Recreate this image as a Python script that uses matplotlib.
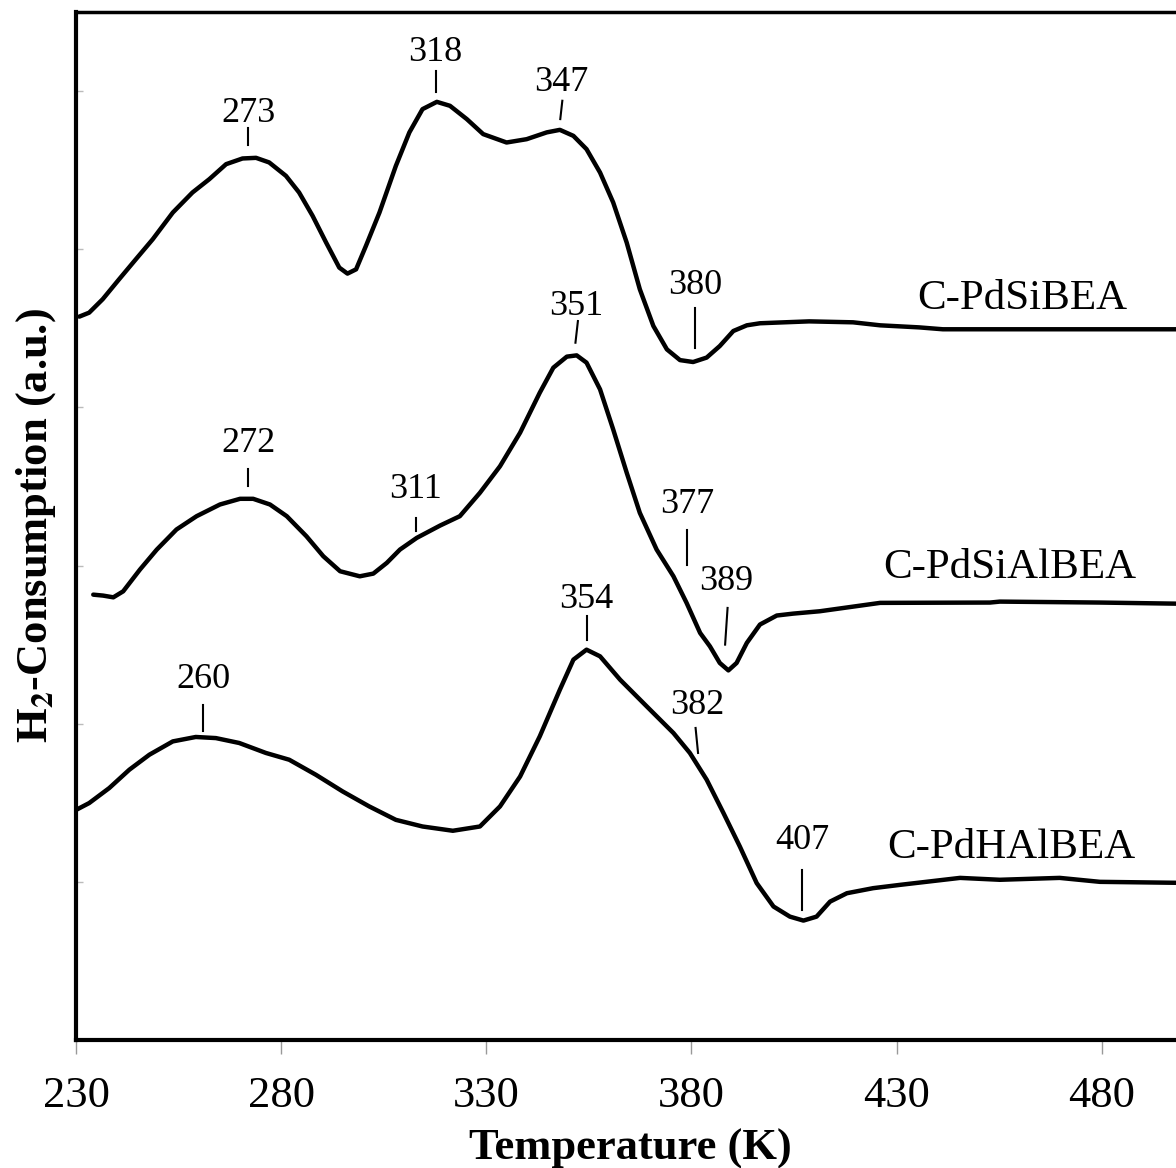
import matplotlib
matplotlib.use("Agg")
import matplotlib.pyplot as plt

plt.rcParams['font.family'] = ['Liberation Serif', 'DejaVu Serif']
plt.rcParams['mathtext.fontset'] = 'stix'

# C-PdSiBEA
t_si = [230.7, 233.1, 236.4, 240.4, 244.5, 248.6, 253.5, 258.3, 262.4, 266.5,
        270.5, 273.8, 277.0, 281.1, 284.3, 287.6, 290.9, 294.1, 296.1, 298.2,
        300.6, 303.9, 307.9, 311.2, 314.4, 317.9, 321.1, 325.2, 329.2, 334.9,
        339.8, 344.7, 347.9, 351.2, 354.4, 357.7, 360.9, 364.2, 367.4, 370.7,
        374.0, 377.2, 380.4, 383.7, 386.9, 390.2, 393.5, 396.7, 400.6, 408.7,
        419.4, 426.0, 435.5, 441.3, 455.2, 498.2]
h_si = [45.74, 45.99, 46.84, 48.10, 49.37, 50.63, 52.32, 53.59, 54.43, 55.38,
        55.74, 55.78, 55.49, 54.64, 53.59, 52.11, 50.42, 48.84, 48.46, 48.73,
        50.21, 52.32, 55.27, 57.39, 58.86, 59.32, 59.07, 58.23, 57.28, 56.75,
        56.96, 57.39, 57.55, 57.17, 56.33, 54.85, 52.96, 50.42, 47.47, 45.15,
        43.67, 42.99, 42.87, 43.15, 43.88, 44.83, 45.19, 45.32, 45.36, 45.44,
        45.38, 45.19, 45.06, 44.94, 44.94, 44.94]

# C-PdSiAlBEA
t_sial = [234.1, 236.5, 239.0, 241.4, 245.5, 249.6, 254.4, 259.3, 265.0, 269.9,
          273.1, 277.2, 281.3, 286.1, 290.2, 294.3, 299.1, 302.4, 305.7, 308.9,
          313.0, 318.7, 323.5, 328.4, 333.3, 338.2, 343.0, 346.3, 349.6, 352.0,
          354.4, 357.7, 360.9, 364.2, 367.4, 371.5, 375.6, 378.8, 382.1, 384.5,
          386.9, 389.0, 391.0, 393.5, 396.7, 400.8, 404.8, 411.3, 426.0, 452.8,
          455.2, 479.6, 498.2]
h_sial = [28.16, 28.10, 27.99, 28.37, 29.75, 31.01, 32.28, 33.12, 33.86, 34.22,
          34.22, 33.86, 33.12, 31.85, 30.59, 29.64, 29.32, 29.49, 30.17, 31.01,
          31.75, 32.53, 33.12, 34.60, 36.28, 38.40, 40.93, 42.51, 43.21, 43.29,
          42.83, 41.14, 38.61, 35.87, 33.33, 31.01, 29.32, 27.64, 25.74, 24.89,
          23.84, 23.37, 23.84, 25.11, 26.27, 26.84, 26.96, 27.11, 27.64, 27.66,
          27.72, 27.66, 27.59]

# C-PdHAlBEA
t_hal = [230.0, 233.1, 238.0, 242.9, 247.8, 253.5, 259.1, 264.0, 269.7, 276.2,
         281.9, 288.4, 294.9, 301.4, 307.9, 314.4, 321.8, 328.4, 333.3, 338.2,
         343.0, 347.9, 351.2, 354.4, 357.7, 362.6, 369.1, 375.6, 379.6, 383.7,
         387.8, 391.8, 395.9, 400.0, 404.0, 407.3, 410.5, 413.8, 417.9, 424.3,
         430.9, 445.5, 455.2, 469.8, 479.6, 498.2]
h_hal = [14.56, 14.98, 15.93, 17.09, 18.04, 18.88, 19.16, 19.09, 18.78, 18.15,
         17.72, 16.77, 15.72, 14.77, 13.92, 13.50, 13.23, 13.50, 14.77, 16.66,
         19.20, 22.15, 24.05, 24.68, 24.26, 22.78, 21.09, 19.41, 18.15, 16.46,
         14.35, 12.23, 9.92, 8.44, 7.80, 7.55, 7.80, 8.75, 9.28, 9.60,
         9.81, 10.25, 10.13, 10.25, 10.00, 9.94]

# peak labels: text, marker position, tick bottom/top, text baseline
peak_lbl = ['273', '318', '347', '380', '351', '272', '311', '377', '389', '354', '260', '382', '407']
peak_pos = [271.9, 317.6, 348.0, 380.9, 351.7, 271.9, 312.8, 379.0, 388.2, 354.4, 260.9, 381.6, 407.0]
peak_tilt = [0, 0, 0.5, 0, 0.6, 0, 0, 0, 0.6, 0, 0, -0.6, 0]
peak_lo = [56.58, 59.92, 58.23, 43.78, 44.09, 35.02, 32.17, 30.06, 25.00, 25.32, 19.51, 18.15, 8.23]
peak_hi = [57.64, 61.29, 59.39, 46.31, 45.46, 36.12, 33.02, 32.22, 27.32, 26.84, 21.20, 19.73, 10.76]
peak_txt = [58.02, 61.92, 60.02, 47.15, 45.82, 37.17, 34.24, 33.33, 28.48, 27.32, 22.26, 20.63, 12.07]

names = ['C-PdSiBEA', 'C-PdSiAlBEA', 'C-PdHAlBEA']
name_x = [460.7, 457.7, 458.0]
name_y = [46.2, 29.24, 11.52]

fig = plt.figure(figsize=(11.76, 11.68), dpi=100)
ax = fig.add_axes([0.065, 0.1096, 0.9414, 0.8801])

for t, h in [(t_si, h_si), (t_sial, h_sial), (t_hal, h_hal)]:
    ax.plot(t, h, color='black', lw=3.2, solid_joinstyle='round', solid_capstyle='round')

for lbl, p, dx, lo, hi, ty in zip(peak_lbl, peak_pos, peak_tilt, peak_lo, peak_hi, peak_txt):
    ax.plot([p, p + dx], [lo, hi], color='black', lw=1.5)
    ax.text(p + dx / 2, ty, lbl, ha='center', va='baseline', fontsize=26)

for n, x, y in zip(names, name_x, name_y):
    ax.text(x, y, n, ha='center', va='baseline', fontsize=31)

ax.set_xlim(230, 500)
ax.set_ylim(0, 65)
ax.set_xticks([230, 280, 330, 380, 430, 480])
ax.set_yticks(range(0, 61, 10))
ax.set_yticklabels([])
ax.tick_params(axis='x', direction='out', length=10, width=1, color='#999999',
               labelsize=32, pad=16)
ax.tick_params(axis='y', direction='in', length=5, width=1, color='#bbbbbb')
ax.spines['right'].set_visible(False)
ax.spines['left'].set_linewidth(3)
ax.spines['bottom'].set_linewidth(3)
ax.spines['top'].set_linewidth(2.5)

ax.set_xlabel('Temperature (K)', fontsize=32, fontweight='bold', labelpad=9)
ax.set_ylabel(r'H$_{\mathbf{2}}$-Consumption (a.u.)', fontsize=32, fontweight='bold', labelpad=10)

fig.savefig('out.png', dpi=100)
